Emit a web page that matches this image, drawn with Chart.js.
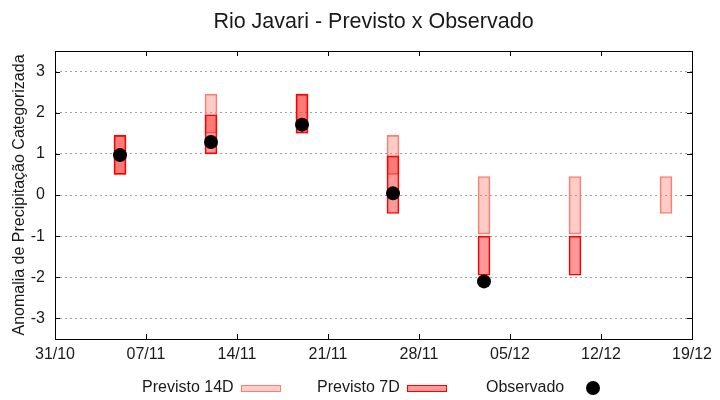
<!DOCTYPE html>
<html><head><meta charset="utf-8">
<script src="https://cdn.jsdelivr.net/npm/chart.js@4.4.1/dist/chart.umd.min.js"></script>
<style>
html,body{margin:0;padding:0;background:#fff;}
#wrap{position:relative;width:720px;height:400px;font-family:"Liberation Sans",Arial,sans-serif;color:#1a1a1a;}
canvas{position:absolute;left:0;top:0;}
.lg{position:absolute;font-size:16px;line-height:18px;white-space:nowrap;}
.sw{position:absolute;box-sizing:border-box;}
</style></head><body>
<div id="wrap"><canvas id="c" width="720" height="400"></canvas>
<div class="lg" style="left:142px;top:378px;">Previsto 14D</div>
<div class="sw" style="left:241px;top:385px;width:40px;height:7px;background:rgba(250,128,114,0.4);border:1px solid rgb(250,128,114);"></div>
<div class="lg" style="left:317px;top:378px;">Previsto 7D</div>
<div class="sw" style="left:407px;top:385px;width:40px;height:7px;background:rgba(255,0,0,0.4);border:1px solid #ff0000;"></div>
<div class="lg" style="left:486px;top:378px;">Observado</div>
<div class="sw" style="left:586px;top:381px;width:14px;height:14px;border-radius:50%;background:#000;"></div>
</div>
<script>
// ---- data ----
const startLabel = '31/10';
const weekDates = ['05/11','12/11','19/11','26/11','03/12','10/12','17/12'];
const prev14Low  = [0.5, 1.5, 1.5, 0.5, -0.95, -0.95, -0.45];
const prev14High = [1.45, 2.45, 2.45, 1.45, 0.45, 0.45, 0.45];
const prev7Low   = [0.5, 1.0, 1.5, -0.45, -1.95, -1.95, null];
const prev7High  = [1.45, 1.95, 2.45, 0.95, -1.0, -1.0, null];
const observed   = [0.97, 1.29, 1.71, 0.04, -2.1, null, null];
const xTickLabels = ['31/10','07/11','14/11','21/11','28/11','05/12','12/12','19/12'];
const yTickValues = [-3, -2, -1, 0, 1, 2, 3];
const seriesNames = ['Previsto 14D', 'Previsto 7D', 'Observado'];

function dayOffset(s){
  const p = s.split('/').map(Number);
  const b = startLabel.split('/').map(Number);
  return (Date.UTC(2022, p[1]-1, p[0]) - Date.UTC(2022, b[1]-1, b[0])) / 864e5;
}
function ranges(lo, hi){
  const out = [];
  weekDates.forEach((d,i)=>{ if(lo[i]!==null && hi[i]!==null) out.push({x: dayOffset(d), y: [lo[i], hi[i]]}); });
  return out;
}
function points(vals){
  const out = [];
  weekDates.forEach((d,i)=>{ if(vals[i]!==null) out.push({x: dayOffset(d), y: vals[i]}); });
  return out;
}

const FONT = 'Liberation Sans';
const TXT = '#1a1a1a';
const TL = 5;

const framePlugin = {
  id: 'frame',
  afterDraw(chart){
    const {ctx, chartArea: a, scales} = chart;
    ctx.save();
    ctx.strokeStyle = '#000';
    ctx.lineWidth = 1;
    ctx.setLineDash([]);
    ctx.beginPath();
    scales.x.ticks.forEach(t=>{
      const px = Math.round(scales.x.getPixelForValue(t.value)) + 0.5;
      ctx.moveTo(px, a.bottom); ctx.lineTo(px, a.bottom - TL);
      ctx.moveTo(px, a.top); ctx.lineTo(px, a.top + TL);
    });
    scales.y.ticks.forEach(t=>{
      const py = Math.round(scales.y.getPixelForValue(t.value)) + 0.5;
      ctx.moveTo(a.left, py); ctx.lineTo(a.left + TL, py);
      ctx.moveTo(a.right, py); ctx.lineTo(a.right - TL, py);
    });
    ctx.stroke();
    ctx.strokeRect(Math.round(a.left)+0.5, Math.round(a.top)+0.5, Math.round(a.right-a.left), Math.round(a.bottom-a.top));
    ctx.restore();
  }
};

new Chart(document.getElementById('c'), {
  type: 'bar',
  data: {
    datasets: [
      { type: 'scatter', label: seriesNames[2], data: points(observed), order: 0,
        pointRadius: 7, pointHoverRadius: 7, backgroundColor: '#000', borderColor: '#000', pointBorderWidth: 0 },
      { label: seriesNames[1], data: ranges(prev7Low, prev7High), order: 1, grouped: false,
        backgroundColor: 'rgba(255,0,0,0.4)', borderColor: '#ff0000', borderWidth: 1, barThickness: 12, borderSkipped: false },
      { label: seriesNames[0], data: ranges(prev14Low, prev14High), order: 2, grouped: false,
        backgroundColor: 'rgba(250,128,114,0.4)', borderColor: 'rgb(250,128,114)', borderWidth: 1, barThickness: 12, borderSkipped: false }
    ]
  },
  options: {
    responsive: false,
    animation: false,
    layout: { padding: { left: 0, right: 28, top: 0, bottom: 0 } },
    plugins: {
      legend: { display: false },
      tooltip: { enabled: false },
      title: { display: true, text: 'Rio Javari - Previsto x Observado', fullSize: false,
        font: { family: FONT, size: 21.5, weight: 'normal' }, color: TXT,
        padding: { top: 9, bottom: 16.2 } }
    },
    scales: {
      x: {
        type: 'linear', min: 0, max: 49, offset: false,
        afterBuildTicks: s => { s.ticks = xTickLabels.map(l => ({ value: dayOffset(l) })); },
        afterFit: s => { s.height = 61; },
        ticks: { callback: (v, i) => xTickLabels[i], font: { family: FONT, size: 16 }, color: TXT,
          padding: 6, maxRotation: 0, autoSkip: false },
        grid: { display: false, drawTicks: false, offset: false },
        border: { display: false }
      },
      y: {
        min: -3.5, max: 3.5,
        afterBuildTicks: s => { s.ticks = yTickValues.map(v => ({ value: v })); },
        afterFit: s => { s.width = 55; },
        ticks: { font: { family: FONT, size: 16 }, color: TXT, padding: 10 },
        grid: { color: '#a0a0a0', lineWidth: 1, drawTicks: false },
        border: { display: false, dash: [2, 3] },
        title: { display: true, text: 'Anomalia de Precipitação Categorizada',
          font: { family: FONT, size: 16 }, color: TXT, padding: { top: 10, bottom: 0 } }
      }
    }
  },
  plugins: [framePlugin]
});
</script>
</body></html>
